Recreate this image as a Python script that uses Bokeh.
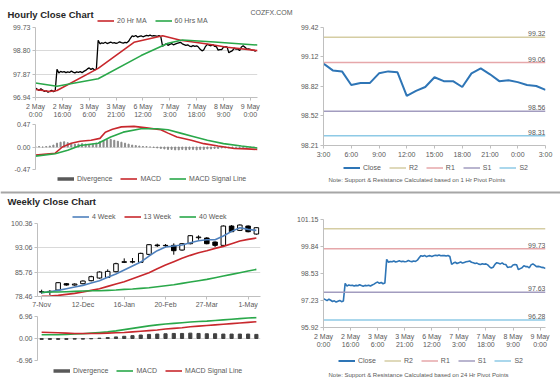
from bokeh.plotting import figure
from bokeh.layouts import column, row
from bokeh.models import (ColumnDataSource, FixedTicker, Legend, LegendItem,
                          Label, Range1d, Span)
from bokeh.embed import file_html
from bokeh.resources import INLINE
from bokeh.core.properties import value

# ---------------- data ----------------
hourly_close = [
    97.32, 97.27, 97.22, 97.29, 97.24, 97.18, 97.21, 97.15, 97.19, 97.23, 97.17, 97.20,
    98.06, 97.92, 97.98, 97.95, 97.97, 97.93, 97.96, 97.94, 97.99, 97.95, 97.92, 97.96,
    97.94, 97.97, 97.93, 97.98, 98.02, 98.08, 98.12, 98.06, 98.10, 98.04, 98.07,
    99.22, 99.08, 99.12, 99.10, 99.14, 99.09, 99.12, 99.15, 99.11, 99.13, 99.10, 99.12,
    99.16, 99.13, 99.11, 99.14, 99.12, 99.18, 99.30,
    99.40, 99.37, 99.41, 99.35, 99.38, 99.40, 99.36, 99.39, 99.42, 99.40, 99.43, 99.39,
    99.41, 99.40, 99.38, 99.41, 99.36,
    98.98, 99.04, 99.08, 99.02, 99.06, 99.09, 99.04, 99.07, 99.10, 99.12, 99.14, 99.08,
    99.05, 99.02, 99.04, 98.99, 98.97, 99.01, 98.98, 99.00, 98.95, 98.86, 98.80, 98.84,
    98.98, 99.06, 99.03, 99.00,
    99.05, 98.98, 98.97, 98.83, 98.85, 98.85, 98.95, 98.97, 98.96, 98.72, 98.77, 98.81,
    98.91, 98.87, 98.87, 98.81, 98.95, 99.00, 98.94, 98.87, 98.88, 98.86, 98.83, 98.82,
    98.78]

ma20_hours = [0, 4, 8, 12, 35, 55, 71, 81, 96, 107, 124]
ma20_vals = [97.26, 97.22, 97.18, 97.22, 98.10, 99.14, 99.40, 99.22, 99.07, 98.94, 98.81]
ma60_hours = [0, 12, 35, 59, 74, 82, 100, 124]
ma60_vals = [97.52, 97.39, 97.69, 98.61, 99.10, 99.23, 99.15, 99.03]

macd_hours = [0, 11, 15, 20, 25, 31, 36, 39, 43, 48, 55, 62, 70, 74, 79, 87, 94, 102, 111, 118, 124]
macd_vals = [-0.17, -0.13, 0.00, 0.08, 0.12, 0.14, 0.18, 0.31, 0.37, 0.42, 0.43, 0.40, 0.36,
             0.29, 0.21, 0.14, 0.07, 0.02, -0.03, -0.04, -0.05]
signal_hours = [0, 11, 18, 25, 35, 42, 49, 59, 68, 74, 81, 88, 96, 105, 115, 124]
signal_vals = [-0.19, -0.14, -0.07, 0.03, 0.08, 0.21, 0.31, 0.38, 0.38, 0.36, 0.29, 0.22,
               0.14, 0.07, 0.02, -0.02]
div_vals = [0.01, 0.01, 0.00, 0.01, 0.02, 0.04, 0.08, 0.10, 0.11, 0.09,
            0.07, 0.06, 0.06, 0.07, 0.06, 0.05, 0.06, 0.08, 0.11, 0.13,
            0.15, 0.16, 0.14, 0.12, 0.10, 0.08, 0.06, 0.04, 0.03, 0.02,
            0.01, 0.01, 0.00, -0.01, -0.02, -0.03, -0.04, -0.05, -0.05, -0.06,
            -0.06, -0.05, -0.06, -0.05, -0.05, -0.06, -0.05, -0.05, -0.04, -0.04,
            -0.03, -0.03, -0.02, -0.02, -0.02, -0.01, -0.01, -0.01, -0.01, 0.00,
            -0.01, -0.01]

hourly_tick_idx = [0, 15, 30, 45, 60, 75, 90, 105, 120]
hourly_tick_labels = ["2 May\n0:00", "2 May\n16:00", "3 May\n6:00", "3 May\n21:00",
                      "6 May\n12:00", "7 May\n3:00", "7 May\n18:00", "8 May\n9:00",
                      "9 May\n0:00"]
tl_yticks = [96.94, 97.87, 98.80, 99.73]
tl_ylabels = ["96.94", "97.87", "98.80", "99.73"]
tm_yticks = [-0.47, 0.0, 0.47]
tm_ylabels = ["-0.47", "0.00", "0.47"]

last24_tick_idx = [0, 3, 6, 9, 12, 15, 18, 21, 24]
last24_tick_labels = ["3:00", "6:00", "9:00", "12:00", "15:00", "18:00", "21:00", "0:00", "3:00"]
tr_yticks = [98.21, 98.52, 98.82, 99.12, 99.42]
tr_ylabels = ["98.21", "98.52", "98.82", "99.12", "99.42"]

pivot_names = ["R2", "R1", "S1", "S2"]
pivot_colors = ["#d5cda3", "#e6a7aa", "#a29cbf", "#8ecae6"]
pivots_1h = [99.32, 99.06, 98.56, 98.31]
pivots_1h_labels = ["99.32", "99.06", "98.56", "98.31"]
pivots_24h = [100.70, 99.73, 97.63, 96.28]
pivots_24h_labels = ["", "99.73", "97.63", "96.28"]
br_yticks = [95.92, 97.23, 98.53, 99.84, 101.15]
br_ylabels = ["95.92", "97.23", "98.53", "99.84", "101.15"]

weekly_open = [79.8, 79.9, 80.4, 82.3, 81.9, 82.3, 83.2, 84.0, 84.2, 85.9, 88.7, 88.9, 88.7,
               91.1, 93.9, 93.7, 93.8, 92.4, 94.3, 96.1, 96.0, 94.8, 93.8, 99.6, 98.3, 99.6, 97.2]
weekly_high = [80.5, 80.4, 82.8, 82.5, 82.4, 83.3, 84.7, 86.0, 86.6, 88.6, 89.9, 90.0, 91.6,
               94.2, 94.3, 94.2, 94.4, 94.5, 96.9, 96.8, 96.3, 95.0, 99.8, 99.9, 100.1, 99.8, 99.2]
weekly_low = [79.3, 78.9, 80.1, 81.7, 81.7, 82.1, 83.0, 83.8, 84.0, 85.7, 88.5, 88.4, 88.5,
              90.9, 93.3, 93.2, 91.0, 92.2, 94.1, 95.5, 94.1, 93.3, 93.4, 97.8, 98.1, 97.7, 97.0]
weekly_close = [79.9, 80.0, 82.6, 81.9, 82.2, 83.1, 84.4, 85.8, 86.0, 88.3, 88.9, 88.8, 91.4,
                94.0, 93.7, 93.8, 92.2, 94.3, 96.7, 96.3, 94.3, 93.8, 99.6, 97.9, 99.9, 97.9, 99.1]
ma4w = [79.6, 79.9, 80.3, 80.8, 81.3, 81.8, 82.5, 83.2, 84.2, 85.2, 86.4, 87.6, 88.8, 90.6,
        92.2, 93.3, 93.6, 93.9, 94.6, 95.2, 95.5, 95.5, 96.6, 98.0, 99.1, 98.6, 98.3]
ma13w = [78.5, 78.6, 78.8, 79.1, 79.4, 79.8, 80.3, 80.8, 81.5, 82.2, 82.9, 83.8, 84.7, 85.6,
         86.8, 87.9, 88.9, 89.9, 90.8, 91.6, 92.2, 92.9, 93.5, 94.3, 95.1, 95.6, 96.0]
ma40w = [79.7, 79.8, 79.8, 79.9, 80.0, 80.1, 80.2, 80.2, 80.3, 80.4, 80.6, 80.7, 80.9, 81.1,
         81.4, 81.7, 82.0, 82.4, 82.8, 83.2, 83.6, 84.1, 84.6, 85.1, 85.6, 86.1, 86.6]
wmacd = [1.2, 1.2, 1.2, 1.3, 1.4, 1.5, 1.7, 1.9, 2.1, 2.4, 2.8, 3.2, 3.6, 4.0, 4.3, 4.6, 4.8,
         5.0, 5.2, 5.4, 5.5, 5.7, 5.9, 6.1, 6.3, 6.5, 6.6]
wsignal = [2.0, 1.9, 1.8, 1.7, 1.6, 1.6, 1.6, 1.6, 1.7, 1.8, 1.9, 2.1, 2.3, 2.5, 2.7, 3.0, 3.2,
           3.4, 3.7, 3.9, 4.1, 4.3, 4.5, 4.7, 4.9, 5.1, 5.3]
wdiv = [-0.3, -0.3, -0.3, -0.3, -0.2, -0.2, -0.1, 0.1, 0.3, 0.5, 0.7, 0.9, 1.1, 1.3, 1.4, 1.5,
        1.6, 1.6, 1.7, 1.6, 1.5, 1.5, 1.4, 1.4, 1.4, 1.4, 1.3]
weekly_tick_idx = [0, 5, 10, 15, 20, 25]
weekly_tick_labels = ["7-Nov", "12-Dec", "16-Jan", "20-Feb", "27-Mar", "1-May"]
wk_yticks = [78.46, 85.76, 93.06, 100.36]
wk_ylabels = ["78.46", "85.76", "93.06", "100.36"]
wm_yticks = [-6.96, 0.0, 6.96]
wm_ylabels = ["-6.96", "0.00", "6.96"]

# ---------------- style ----------------
FONT = "Liberation Sans"
GRAY = "#595959"
AXIS = "#bfbfbf"
GRID = "#d9d9d9"
RED = "#c8282d"
GREEN = "#2aa84a"
BLUE_W = "#4f81bd"
BLUE_C = "#2e75b6"


def base(width, height, xr, yr, left, right, top, bottom, grid=True):
    p = figure(width=width, height=height, x_range=xr, y_range=yr,
               output_backend="svg", toolbar_location=None,
               min_border_left=left, min_border_right=right,
               min_border_top=top, min_border_bottom=bottom)
    p.outline_line_color = None
    p.xgrid.visible = False
    if grid:
        p.ygrid.grid_line_color = GRID
    else:
        p.ygrid.visible = False
    for ax in p.axis:
        ax.axis_line_color = AXIS
        ax.major_tick_line_color = AXIS
        ax.minor_tick_line_color = None
        ax.major_tick_in = 0
        ax.major_tick_out = 3
        ax.major_label_text_font = FONT
        ax.major_label_text_font_size = "7px"
        ax.major_label_text_color = GRAY
        ax.major_label_standoff = 2
    return p


def ticks(axis, pos, labels):
    axis.ticker = FixedTicker(ticks=pos)
    axis.major_label_overrides = {k: v for k, v in zip(pos, labels)}


def strip(width, height, frame_width=None):
    # a plain drawing strip; frame_width = width of the frame it gets aligned to
    fw = frame_width if frame_width else width
    s = figure(width=width, height=height, x_range=Range1d(0, fw),
               y_range=Range1d(0, height), output_backend="svg",
               toolbar_location=None, min_border=0)
    s.axis.visible = False
    s.grid.visible = False
    s.outline_line_color = None
    return s


def strip_legend(s, entries, vx, vy):
    # legend swatches only (a single point draws no line)
    items = []
    for label, width, color in entries:
        r = s.line(x=[0], y=[-50], color=color, line_width=width)
        items.append(LegendItem(label=label, renderers=[r]))
    lg = Legend(items=items, location=(vx, vy), orientation="horizontal",
                padding=0, margin=0, spacing=8,
                glyph_width=17, glyph_height=7, label_height=7, label_width=0,
                label_standoff=3,
                label_text_font=FONT, label_text_font_size="7px",
                label_text_color=GRAY, border_line_color=None,
                background_fill_alpha=0)
    s.add_layout(lg, "center")


def text_label(s, x, y, text, size, bold=False, color=GRAY, baseline="middle"):
    s.add_layout(Label(x=x, y=y, text=text, text_baseline=baseline, text_font=FONT,
                       text_font_size=size, text_font_style="bold" if bold else "normal",
                       text_color=color))


hours = list(range(len(hourly_close)))
div_hours = list(range(0, 2 * len(div_vals), 2))

# ---------------- header ----------------
h1 = strip(560, 24)
text_label(h1, 7, 10.5, "Hourly Close Chart", "9.5px", bold=True, color="#262626",
           baseline="alphabetic")
text_label(h1, 250, 12, "COZFX.COM", "7px", baseline="alphabetic")
strip_legend(h1, [("20 Hr MA", 1.6, RED), ("60 Hrs MA", 1.6, GREEN)], 97, 0)

# ---------------- hourly price (top-left) ----------------
tlp = base(280, 96, Range1d(0, 124), Range1d(96.94, 99.73), 35, 23, 3, 23)
ticks(tlp.xaxis[0], hourly_tick_idx, hourly_tick_labels)
ticks(tlp.yaxis[0], tl_yticks, tl_ylabels)
tlp.line(hours, hourly_close, color="black", line_width=1.3)
tlp.line(ma20_hours, ma20_vals, color=RED, line_width=1.6)
tlp.line(ma60_hours, ma60_vals, color=GREEN, line_width=1.6)

# ---------------- hourly MACD ----------------
tlm = base(280, 53, Range1d(0, 124), Range1d(-0.47, 0.47), 35, 23, 4, 4)
tlm.xaxis.visible = False
ticks(tlm.yaxis[0], tm_yticks, tm_ylabels)
tlm.vbar(x=div_hours, top=div_vals, bottom=0, width=0.6, color="#8c8c8c")
tlm.line(macd_hours, macd_vals, color=RED, line_width=1.6)
tlm.line(signal_hours, signal_vals, color=GREEN, line_width=1.6)
tlm_leg = strip(280, 13, 222)
strip_legend(tlm_leg, [("Divergence", 3.5, "#595959"), ("MACD", 1.6, RED),
                       ("MACD Signal Line", 1.6, GREEN)], 22, 4)

# ---------------- last 24 hours (top-right) ----------------
last24 = hourly_close[-25:]
x24 = list(range(len(last24)))
tr = base(280, 136, Range1d(0, 24), Range1d(98.21, 99.42), 43, 15, 3, 15, grid=False)
ticks(tr.xaxis[0], last24_tick_idx, last24_tick_labels)
ticks(tr.yaxis[0], tr_yticks, tr_ylabels)
tr.line(x24, last24, color=BLUE_C, line_width=2)
for lvl, col in zip(pivots_1h, pivot_colors):
    tr.line([x24[0], x24[-1]], [lvl, lvl], color=col, line_width=1.5)
tr.text(x=[x24[-1]] * 4, y=pivots_1h, text=pivots_1h_labels, text_align="right",
        text_baseline="bottom", y_offset=-1, text_font=value(FONT), text_font_size="7px",
        text_color=GRAY)
tr_leg = strip(280, 26, 222)
strip_legend(tr_leg, [("Close", 2, BLUE_C)] + [(n, 1.5, c) for n, c in zip(pivot_names, pivot_colors)],
             20, 15)
text_label(tr_leg, 5, 6.7, "Note: Support & Resistance Calculated based on 1 Hr Pivot Points", "6px")

# ---------------- section 2 header ----------------
h2 = strip(560, 25)
h2.add_layout(Span(location=19, dimension="width", line_color="#a6a6a6", line_width=2))
text_label(h2, 7, 10, "Weekly Close Chart", "9.5px", bold=True, color="#262626")

# ---------------- weekly price ----------------
week_idx = list(range(len(weekly_close)))
wsrc = ColumnDataSource(dict(
    x=week_idx, h=weekly_high, l=weekly_low,
    top=[max(o, c) for o, c in zip(weekly_open, weekly_close)],
    bottom=[min(o, c) for o, c in zip(weekly_open, weekly_close)],
    fill=["white" if c >= o else "black" for o, c in zip(weekly_open, weekly_close)]))
blp_leg = strip(280, 9, 223)
strip_legend(blp_leg, [("4 Week", 1.6, BLUE_W), ("13 Week", 1.6, RED), ("40 Week", 1.6, GREEN)],
             35, 0)
blp = base(280, 90, Range1d(-0.5, 26.5), Range1d(78.46, 100.36), 37, 20, 3, 12)
ticks(blp.xaxis[0], weekly_tick_idx, weekly_tick_labels)
ticks(blp.yaxis[0], wk_yticks, wk_ylabels)
blp.xaxis.major_label_standoff = 1
blp.segment(x0="x", y0="l", x1="x", y1="h", source=wsrc, color="black", line_width=1)
blp.vbar(x="x", width=0.55, top="top", bottom="bottom", fill_color="fill",
         line_color="black", line_width=1, source=wsrc)
blp.line(week_idx, ma4w, color=BLUE_W, line_width=1.6)
blp.line(week_idx, ma13w, color=RED, line_width=1.6)
blp.line(week_idx, ma40w, color=GREEN, line_width=1.6)

# ---------------- weekly MACD ----------------
blm = base(280, 54, Range1d(-0.5, 26.5), Range1d(-6.96, 6.96), 37, 20, 6, 4)
blm.xaxis.visible = False
ticks(blm.yaxis[0], wm_yticks, wm_ylabels)
blm.vbar(x=week_idx, top=wdiv, bottom=0, width=0.38, color="#404040")
blm.line(week_idx, wmacd, color=GREEN, line_width=1.6)
blm.line(week_idx, wsignal, color=RED, line_width=1.6)
blm_leg = strip(280, 14, 223)
strip_legend(blm_leg, [("Divergence", 3.5, "#595959"), ("MACD", 1.6, GREEN),
                       ("MACD Signal Line", 1.6, RED)], 16, 4)

# ---------------- hourly close with 24h pivots (bottom-right) ----------------
br = base(280, 139, Range1d(0, 123), Range1d(95.92, 101.15), 43, 15, 8, 23, grid=False)
ticks(br.xaxis[0], hourly_tick_idx, hourly_tick_labels)
ticks(br.yaxis[0], br_yticks, br_ylabels)
br.line(hours, hourly_close, color=BLUE_C, line_width=1.6)
for lvl, col in zip(pivots_24h, pivot_colors):
    br.line([hours[0], hours[-1]], [lvl, lvl], color=col, line_width=1.5)
br.text(x=[hours[-1]] * 4, y=pivots_24h, text=pivots_24h_labels, text_align="right",
        text_baseline="bottom", y_offset=-1, text_font=value(FONT), text_font_size="7px",
        text_color=GRAY)
br_leg = strip(280, 28, 222)
strip_legend(br_leg, [("Close", 2, BLUE_C)] + [(n, 1.5, c) for n, c in zip(pivot_names, pivot_colors)],
             15, 14)
text_label(br_leg, 5, 4, "Note: Support & Resistance Calculated based on 24 Hr Pivot Points", "6px")

# ---------------- footer ----------------
foot = strip(560, 8)
foot.add_layout(Span(location=2, dimension="width", line_color="#a6a6a6", line_width=2))

layout = column(h1,
                row(column(tlp, tlm, tlm_leg), column(tr, tr_leg)),
                h2,
                row(column(blp_leg, blp, blm, blm_leg), column(br, br_leg)),
                foot)

open("out.html", "w").write(file_html(layout, INLINE))
